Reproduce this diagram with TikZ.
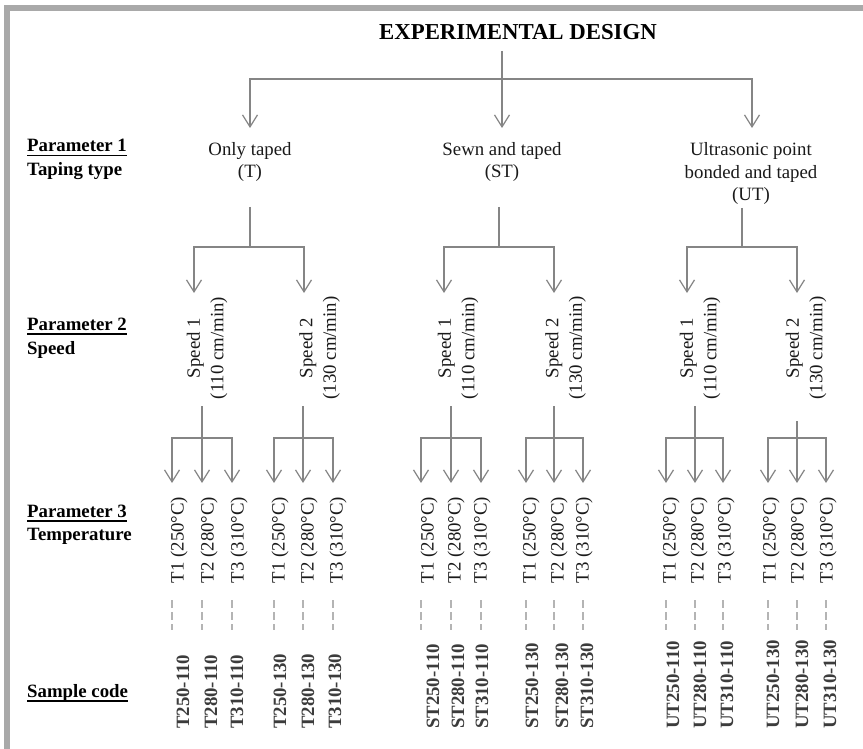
\documentclass[tikz,border=0pt]{standalone}
\usepackage{fontspec}
\setmainfont{Liberation Serif}
\usetikzlibrary{arrows.meta}
\definecolor{linegray}{HTML}{858585}
\definecolor{framegray}{HTML}{A9A9A9}
\definecolor{dashgray}{HTML}{B4B4B4}
\definecolor{codegray}{HTML}{3C3C3C}
\definecolor{txtcol}{HTML}{1A1A1A}
\newcommand\myul[1]{\setbox0\hbox{#1}\rlap{\rule[-4.5pt]{\wd0}{1.6pt}}\box0}
\tikzset{
  conn/.style={draw=linegray, line width=1.2pt},
  arr/.style={conn, -{Straight Barb[length=12pt,width=15pt]}},
  dline/.style={draw=dashgray, line width=1.3pt, dash pattern=on 8pt off 4pt},
  txt/.style={font=\fontsize{18.8}{22.5}\selectfont, text=txtcol, inner sep=0pt, align=center},
  spdtxt/.style={font=\fontsize{18.8}{23.5}\selectfont, text=txtcol, inner sep=0pt, align=center, rotate=90},
  temptxt/.style={font=\fontsize{18.8}{22}\selectfont, text=txtcol, inner sep=0pt, rotate=90},
  codetxt/.style={font=\bfseries\fontsize{18.8}{22}\selectfont, text=codegray, inner sep=0pt, rotate=90, anchor=west},
  lbl/.style={font=\bfseries\fontsize{18.8}{22}\selectfont, text=black, inner sep=0pt, anchor=base west},
  titletxt/.style={font=\bfseries\fontsize{22.8}{26}\selectfont, text=black, inner sep=0pt}
}
\begin{document}
\begin{tikzpicture}[x=1pt,y=-1pt]
\useasboundingbox (0,0) rectangle (863,749);
\fill[white] (0,0) rectangle (863,749);
% partial frame
\fill[framegray] (4,5) rectangle (863,11);
\fill[framegray] (4,5) rectangle (10,749);

% title
\node[titletxt] (title) at (518,32.5) {EXPERIMENTAL DESIGN};

% left labels
\node[lbl] (p1) at (27,152) {\myul{Parameter 1}};
\node[lbl] (p1b) at (27,175.5) {Taping type};
\node[lbl] (p2) at (27,330.5) {\myul{Parameter 2}};
\node[lbl] (p2b) at (27,354.5) {Speed};
\node[lbl] (p3) at (27,517) {\myul{Parameter 3}};
\node[lbl] (p3b) at (27,540.5) {Temperature};
\node[lbl] (p4) at (27,697) {\myul{Sample code}};

% level 1
\coordinate (top0) at (502,51);
\coordinate (j0) at (502,79);
\coordinate (aT) at (250,128);
\coordinate (aST) at (502,128);
\coordinate (aUT) at (752,128);
\draw[conn] (top0) -- (j0);
\draw[arr] (j0) -| (aT);
\draw[arr] (j0) -- (aST);
\draw[arr] (j0) -| (aUT);

\node[txt] (T) at (250,162) {Only taped\\(T)};
\node[txt] (ST) at (502,162) {Sewn and taped\\(ST)};
\node[txt] (UT) at (751,173.5) {Ultrasonic point\\bonded and taped\\(UT)};

% level 2
\foreach \g/\l/\m/\r/\t in {T/194/250/304/207, ST/444/499/554/207, UT/687/742/797/208}{
  \coordinate (\g-top) at (\m,\t);
  \coordinate (\g-j) at (\m,247);
  \coordinate (\g-a1) at (\l,293);
  \coordinate (\g-a2) at (\r,293);
  \draw[conn] (\g-top) -- (\g-j);
  \draw[arr] (\g-j) -| (\g-a1);
  \draw[arr] (\g-j) -| (\g-a2);
}

\node[spdtxt] (TA) at (207,348) {Speed 1\\(110 cm/min)};
\node[spdtxt] (TB) at (319.5,348) {Speed 2\\(130 cm/min)};
\node[spdtxt] (SA) at (458,348) {Speed 1\\(110 cm/min)};
\node[spdtxt] (SB) at (565.5,348) {Speed 2\\(130 cm/min)};
\node[spdtxt] (UA) at (700,348) {Speed 1\\(110 cm/min)};
\node[spdtxt] (UB) at (806,348) {Speed 2\\(130 cm/min)};

% level 3, temperatures, dashes, codes
\foreach \g/\pre/\spd/\l/\m/\r/\t/\ta/\tb/\tc/\ca/\cb/\cc in {
  TA/T/110/172/202/232/406/179/209/239/183/211/237,
  TB/T/130/274/303/333/406/280/309/338/280/308/335,
  SA/ST/110/421/451/481/406/429/456/482/433/458/482,
  SB/ST/130/526/554/583/406/531/559/584/532/562/587,
  UA/UT/110/666/695/723/406/671/699/726/673/700/727,
  UB/UT/130/768/797/826/421/771/799/828/773/802/830}{
  \coordinate (\g-top) at (\m,\t);
  \coordinate (\g-j) at (\m,438);
  \coordinate (\g-1) at (\l,483);
  \coordinate (\g-2) at (\m,483);
  \coordinate (\g-3) at (\r,483);
  \draw[conn] (\g-top) -- (\g-j);
  \draw[arr] (\g-j) -- (\g-2);
  \draw[arr] (\g-j) -| (\g-1);
  \draw[arr] (\g-j) -| (\g-3);
  \node[temptxt] (\g-t1) at (\ta,540) {T1 (250°C)};
  \node[temptxt] (\g-t2) at (\tb,540) {T2 (280°C)};
  \node[temptxt] (\g-t3) at (\tc,540) {T3 (310°C)};
  \coordinate (\g-d1s) at (\l,600);
  \coordinate (\g-d1e) at (\l,630);
  \coordinate (\g-d2s) at (\m,600);
  \coordinate (\g-d2e) at (\m,630);
  \coordinate (\g-d3s) at (\r,600);
  \coordinate (\g-d3e) at (\r,630);
  \draw[dline] (\g-d1s) -- (\g-d1e);
  \draw[dline] (\g-d2s) -- (\g-d2e);
  \draw[dline] (\g-d3s) -- (\g-d3e);
  \node[codetxt] (\g-c1) at (\ca,729) {\pre250-\spd};
  \node[codetxt] (\g-c2) at (\cb,729) {\pre280-\spd};
  \node[codetxt] (\g-c3) at (\cc,729) {\pre310-\spd};
}
\end{tikzpicture}
\end{document}
